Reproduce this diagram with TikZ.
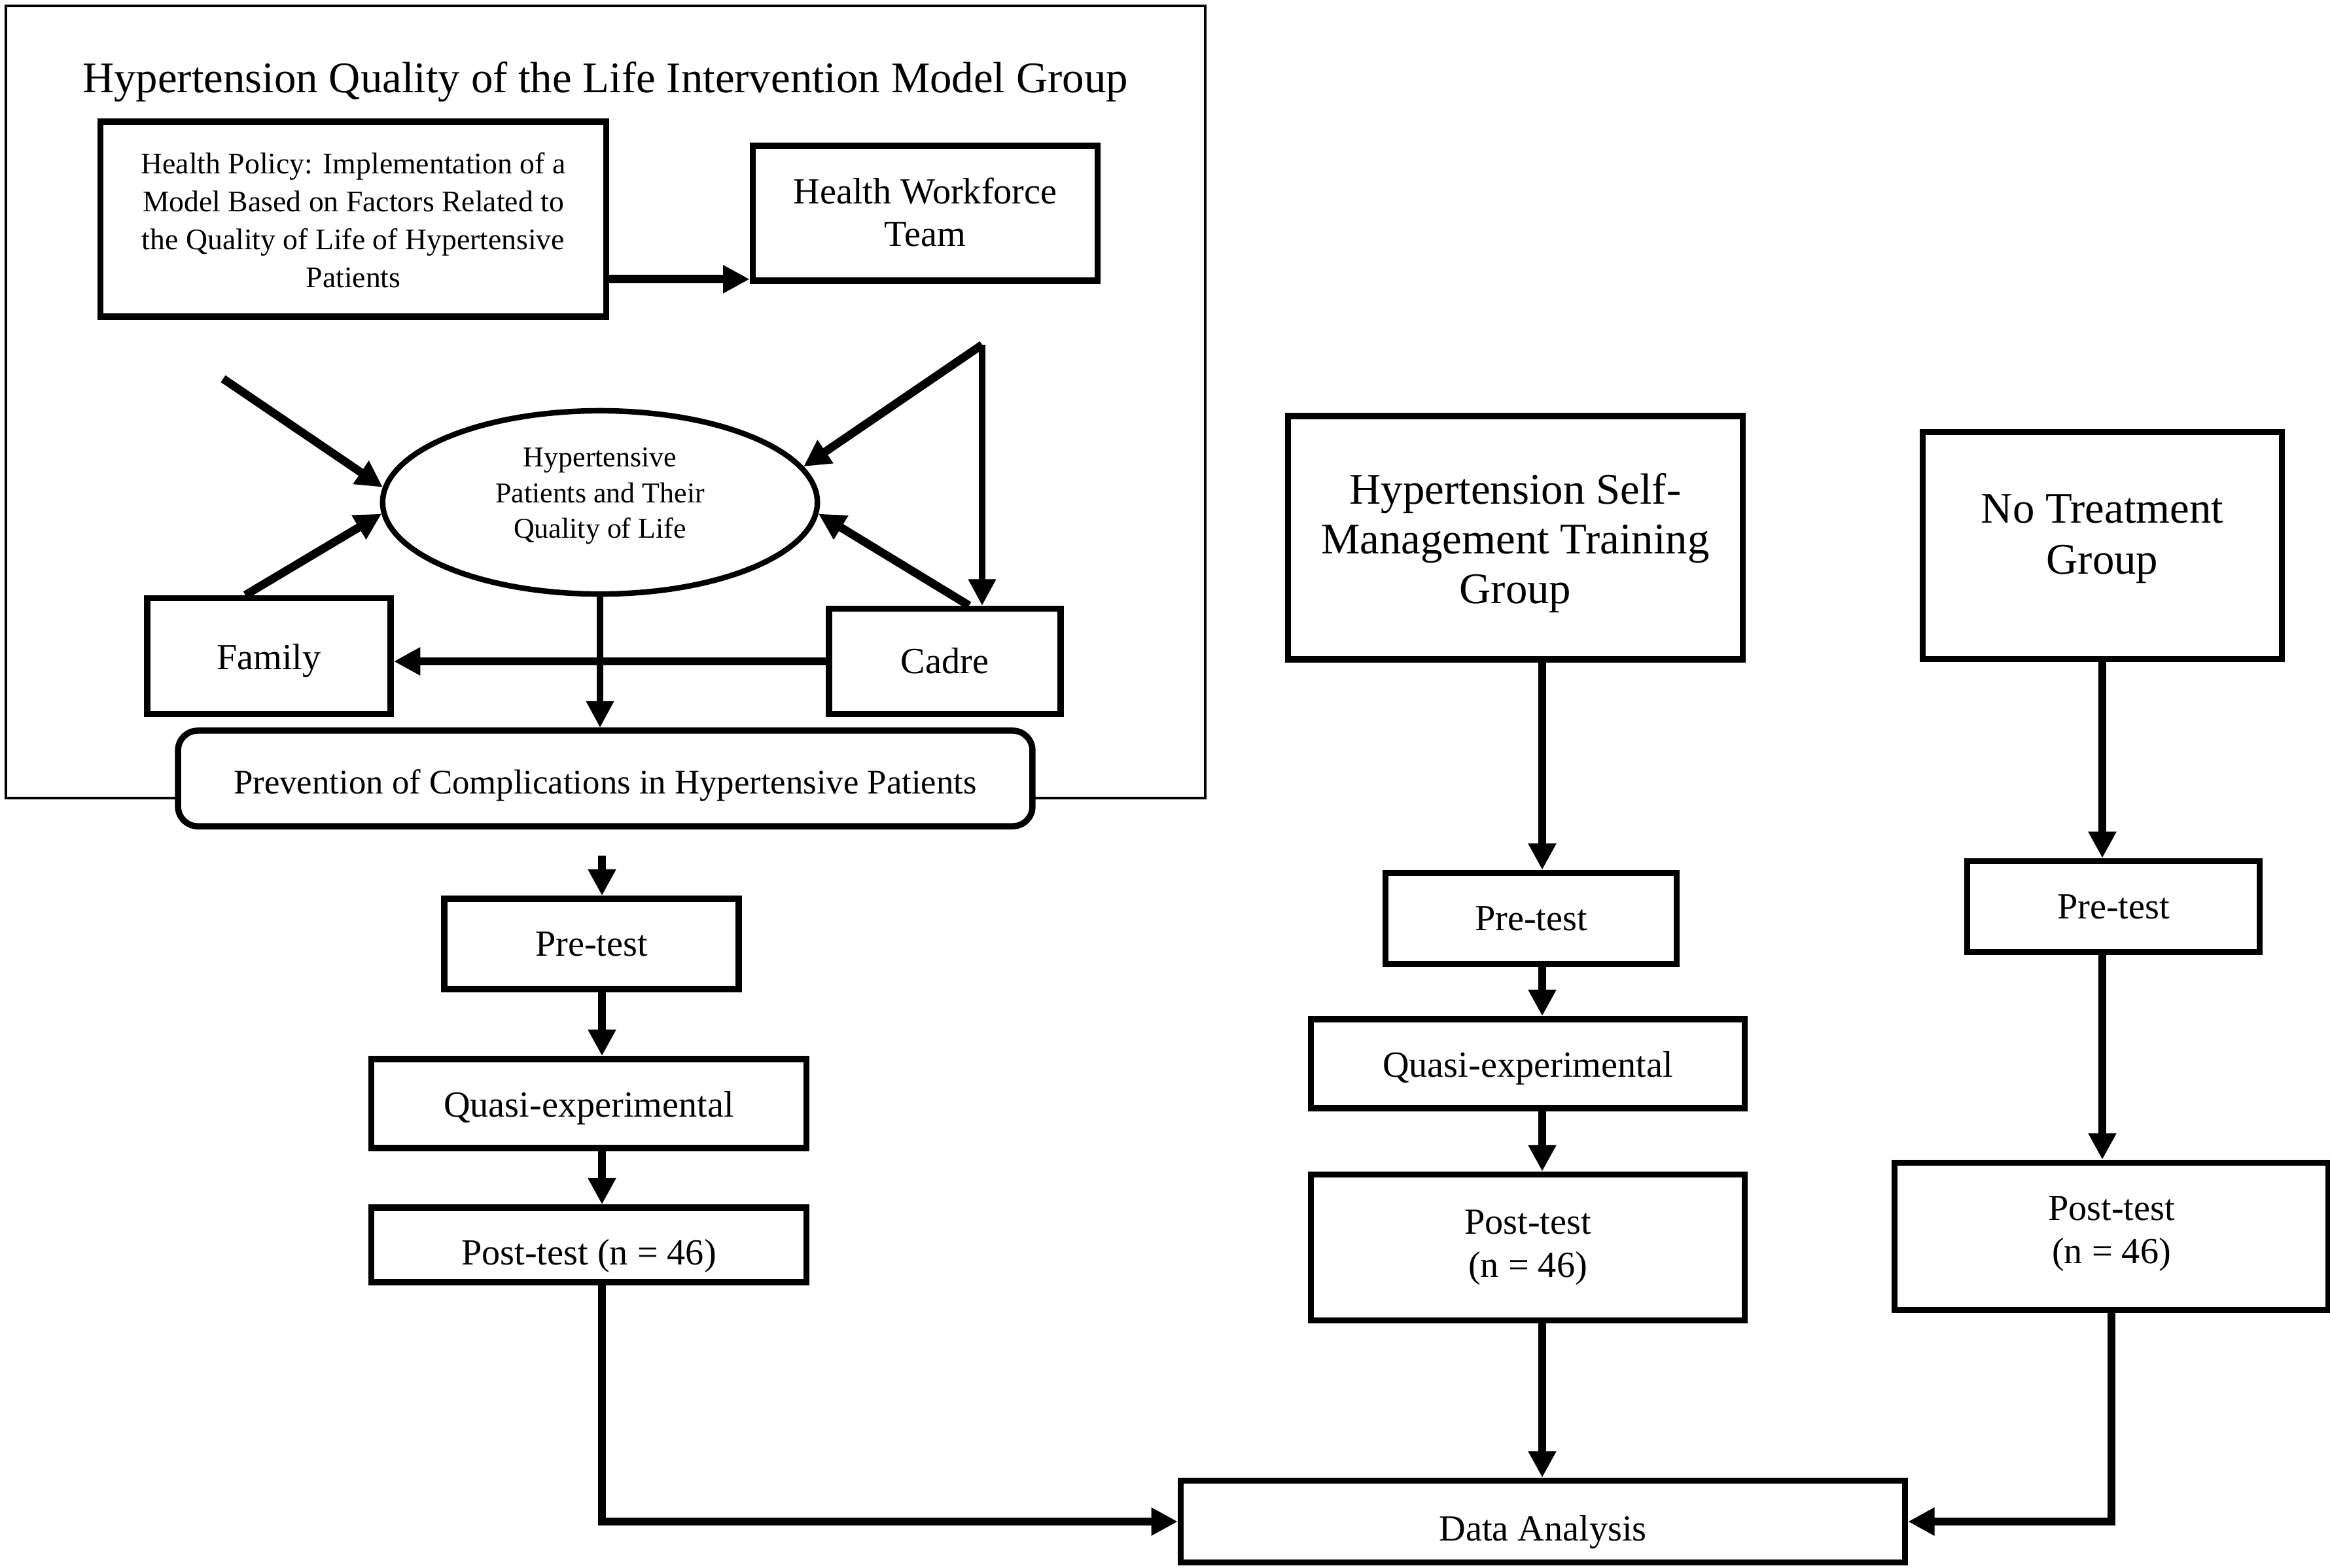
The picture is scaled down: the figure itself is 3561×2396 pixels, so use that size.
\documentclass[tikz,border=0pt]{standalone}
\usepackage{fontspec}
\setmainfont{Liberation Serif}
\usetikzlibrary{positioning,arrows.meta,shapes.geometric}
\newcommand{\shifttext}[2]{\raisebox{#1}[\height][\depth]{\begin{tabular}{@{}c@{}}#2\end{tabular}}}

\begin{document}
\begin{tikzpicture}[
    x=0.01cm, y=-0.01cm,
    box/.style={%
      draw,
      rectangle,
      line width=2.7pt,
      align=center,
      inner sep=0pt,
      font=\fontsize{16}{18.7}\selectfont,
    },
    arr/.style={%
      line width=3.6pt,
      -{Triangle[length=11.5pt,width=11.5pt]},
    },
  ]
    \useasboundingbox (0,0) rectangle (3561,2396);

    \draw [line width=1pt] (9,9) rectangle (1842,1220);
    \node [font=\fontsize{19}{22}\selectfont] (title) at (925,125)
      {Hypertension Quality of the Life Intervention Model Group};

    \node [box, minimum width=7.73cm, minimum height=2.98cm,
      font=\fontsize{13}{16.5}\selectfont] (pol) at (540,335)
      {\shifttext{-1.7pt}{Health Policy: Implementation of a\\Model Based on Factors Related to\\the Quality of Life of Hypertensive\\Patients}};
    \node [box, minimum width=5.27cm, minimum height=2.06cm] (hwt) at (1414,326)
      {\shifttext{-1.4pt}{Health Workforce\\Team}};
    \node [box, ellipse, line width=2.4pt, minimum width=6.64cm, minimum height=2.8cm,
      font=\fontsize{12.5}{15.5}\selectfont] (hp) at (917,768)
      {\shifttext{3.1pt}{Hypertensive\\Patients and Their\\Quality of Life}};
    \node [box, minimum width=3.72cm, minimum height=1.77cm] (fam) at (411,1003)
      {\shifttext{-2pt}{Family}};
    \node [box, minimum width=3.54cm, minimum height=1.61cm] (cadre) at (1444,1011)
      {\shifttext{-1.4pt}{Cadre}};
    \node [box, rounded corners=0.3cm, fill=white, minimum width=13.05cm, minimum height=1.46cm,
      font=\fontsize{15}{18}\selectfont] (prev) at (925,1190)
      {\shifttext{-3.1pt}{Prevention of Complications in Hypertensive Patients}};

    \coordinate (free) at (341,579);
    \coordinate (fork) at (1501,527);
    \coordinate (gap) at (920,1308);
    \coordinate (hwt-in) at ([yshift=0.07cm]hwt.south west);

    \draw [arr] (pol.east |- hwt-in) -- (hwt-in);
    \draw [arr] (free) -- (hp.176);
    \draw [arr] (fork) -- (hp.10);
    \draw [arr, line width=2.6pt] (fork) -- (fork |- cadre.north);
    \draw [arr] ([xshift=-0.36cm]fam.north) -- (hp.183);
    \draw [arr] ([xshift=0.37cm]cadre.north) -- (hp.357);
    \draw [arr] (cadre.west) -- (cadre.west -| fam.east);
    \draw [arr, line width=2.6pt] (hp.south) -- (hp.south |- prev.north);

    \node [box, minimum width=4.50cm, minimum height=1.38cm] (pre1) at (904,1443) {Pre-test};
    \node [box, minimum width=6.65cm, minimum height=1.36cm] (qe1) at (900,1687)
      {\shifttext{-2pt}{Quasi-experimental}};
    \node [box, minimum width=6.65cm, minimum height=1.14cm] (post1) at (900,1903)
      {\shifttext{-5pt}{Post-test (n = 46)}};

    \node [box, minimum width=6.95cm, minimum height=3.72cm,
      font=\fontsize{19}{21.6}\selectfont] (shm) at (2316,822)
      {\shifttext{-2.6pt}{Hypertension Self-\\Management Training\\Group}};
    \node [box, minimum width=4.45cm, minimum height=1.39cm] (pre2) at (2340,1404) {Pre-test};
    \node [box, minimum width=6.63cm, minimum height=1.36cm] (qe2) at (2335,1626)
      {\shifttext{-2pt}{Quasi-experimental}};
    \node [box, minimum width=6.63cm, minimum height=2.23cm] (post2) at (2335,1907) {Post-test\\(n = 46)};

    \node [box, minimum width=5.49cm, minimum height=3.47cm,
      font=\fontsize{19}{22}\selectfont] (nt) at (3213,834)
      {\shifttext{3.1pt}{No Treatment\\Group}};
    \node [box, minimum width=4.47cm, minimum height=1.39cm] (pre3) at (3230,1386) {Pre-test};
    \node [box, minimum width=6.63cm, minimum height=2.25cm] (post3) at (3227,1890)
      {\shifttext{1.4pt}{Post-test\\(n = 46)}};

    \node [box, minimum width=11.06cm, minimum height=1.25cm] (da) at (2358,2326)
      {\shifttext{-4.5pt}{Data Analysis}};

    \coordinate (lcol) at (920,0);
    \coordinate (mcol) at (2357,0);

    \draw [arr] (gap) -- (lcol |- pre1.north);
    \draw [arr] (lcol |- pre1.south) -- (lcol |- qe1.north);
    \draw [arr] (lcol |- qe1.south) -- (lcol |- post1.north);
    \draw [arr] (lcol |- post1.south) |- (da.west);

    \draw [arr] (mcol |- shm.south) -- (mcol |- pre2.north);
    \draw [arr] (mcol |- pre2.south) -- (mcol |- qe2.north);
    \draw [arr] (mcol |- qe2.south) -- (mcol |- post2.north);
    \draw [arr] (mcol |- post2.south) -- (mcol |- da.north);

    \draw [arr] (nt.south) -- (nt.south |- pre3.north);
    \draw [arr] (pre3.south -| nt.south) -- (nt.south |- post3.north);
    \draw [arr] (post3.south) |- (da.east);
\end{tikzpicture}
\end{document}
